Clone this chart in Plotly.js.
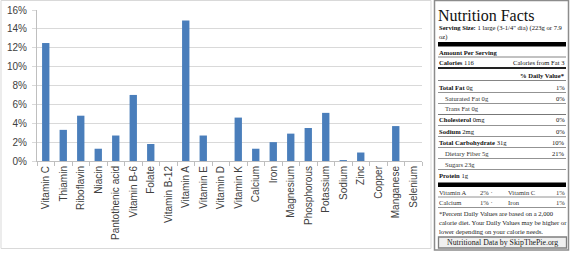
<!DOCTYPE html>
<html>
<head>
<meta charset="utf-8">
<script src="https://cdn.plot.ly/plotly-3.0.1.min.js"></script>
<style>
html,body{margin:0;padding:0;background:#fff;}
#chart{width:570px;height:253px;}
</style>
</head>
<body>
<div id="chart"></div>
<script>
// ---- Bar chart data ----
const categories = ['Vitamin C','Thiamin','Riboflavin','Niacin','Pantothenic acid','Vitamin B-6','Folate','Vitamin B-12','Vitamin A','Vitamin E','Vitamin D','Vitamin K','Calcium','Iron','Magnesium','Phosphorous','Potassium','Sodium','Zinc','Copper','Manganese','Selenium'];
const dailyValue = [0.125,0.033,0.048,0.013,0.027,0.070,0.018,0,0.149,0.027,0,0.046,0.013,0.020,0.029,0.035,0.051,0.001,0.009,0,0.037,0];
const yTickVals = [0,0.02,0.04,0.06,0.08,0.10,0.12,0.14,0.16];
const yTickText = ['0%','2%','4%','6%','8%','10%','12%','14%','16%'];

// ---- Nutrition facts panel content ----
const nfTitle = 'Nutrition Facts';
const servingSize = ['1 large (3-1/4" dia) (223g or 7.9', 'oz)'];
const calories = '116';
const caloriesFromFat = '3';
const nutrients = ['Total Fat','Saturated Fat','Trans Fat','Cholesterol','Sodium','Total Carbohydrate','Dietary Fiber','Sugars','Protein'];
const amounts = ['0g','0g','0g','0mg','2mg','31g','5g','23g','1g'];
const nutrientDV = ['1%','0%','','0%','0%','10%','21%','',''];
const subNutrients = ['Saturated Fat','Trans Fat','Dietary Fiber','Sugars'];
const vitaminNames = ['Vitamin A','Vitamin C','Calcium','Iron'];
const vitaminDV = ['2%','1%','1%','1%'];
const footnote = ['*Percent Daily Values are based on a 2,000','calorie diet. Your Daily Values may be higher or','lower depending on your calorie needs.'];
const credit = 'Nutritional Data by SkipThePie.org';

// ---- helpers (pixel -> paper, margins are 0) ----
const W = 570, H = 253;
const px = x => x / W;
const py = y => 1 - y / H;
const serif = 'Liberation Serif, Times New Roman, serif';
const FS = 6.6;

const shapes = [];
const annotations = [];
function hline(y, x0, x1, w, c) {
  shapes.push({type:'line', xref:'paper', yref:'paper', x0:px(x0), x1:px(x1), y0:py(y), y1:py(y), line:{color:c, width:w}});
}
function rect(x0, y0, x1, y1, fill, lc, lw) {
  shapes.push({type:'rect', xref:'paper', yref:'paper', x0:px(x0), x1:px(x1), y0:py(y0), y1:py(y1), fillcolor:fill, line:{color:lc, width:lw}});
}
function txt(x, y, t, size, anchor, color) {
  annotations.push({xref:'paper', yref:'paper', x:px(x), y:py(y), text:t, showarrow:false,
    xanchor:anchor||'left', yanchor:'middle', font:{family:serif, size:size, color:color||'#111'}, borderpad:0});
}

// chart frame
rect(1, 0.5, 431, 248.5, 'rgba(0,0,0,0)', '#d9d9d9', 1);

// nutrition box
const L = 438, R = 566;
rect(434.5, 0.5, 568.5, 250, '#ffffff', '#8c8c8c', 1.5);
txt(L, 28, '<b>Serving Size:</b> ' + servingSize[0], FS);
txt(L, 36.5, servingSize[1], FS);
rect(L, 42, R, 46.5, '#000', '#000', 0);
txt(L, 52, '<b>Amount Per Serving</b>', FS);
hline(57, L, R, 0.8, '#666');
txt(L, 62.5, '<b>Calories</b> ' + calories, FS);
txt(R, 62.5, 'Calories from Fat ' + caloriesFromFat, FS, 'right');
hline(68, L, R, 2, '#222');
txt(R, 75, '<b>% Daily Value*</b>', FS, 'right');
hline(80.5, L, R, 0.8, '#666');
nutrients.forEach((n, i) => {
  const y = 87 + i * 11;
  const sub = subNutrients.indexOf(n) >= 0;
  txt(sub ? L + 6 : L, y, (sub ? n : '<b>' + n + '</b>') + ' ' + amounts[i], FS, 'left', sub ? '#333' : '#111');
  if (nutrientDV[i]) txt(R, y, nutrientDV[i], FS, 'right');
  if (i < nutrients.length - 1) hline(y + 5.5, L, R, i === 2 ? 1.2 : 0.8, '#777');
});
rect(L, 182.5, R, 187, '#000', '#000', 0);
for (let r = 0; r < 2; r++) {
  const y = 192 + r * 10.5;
  txt(L, y, vitaminNames[2*r], FS, 'left', '#333');
  txt(494, y, vitaminDV[2*r] + ' ·', FS, 'right', '#333');
  txt(507, y, vitaminNames[2*r+1], FS, 'left', '#333');
  txt(R, y, vitaminDV[2*r+1], FS, 'right', '#333');
  hline(y + 5, L, R, 0.8, '#777');
}
footnote.forEach((f, i) => txt(L, 213 + i * 9, f, FS, 'left', '#222'));
rect(438.5, 237, 566.5, 248, '#efefef', '#7f7f7f', 1.3);
txt(502.5, 242.5, credit, 7.8, 'center', '#222');

const trace = {
  type:'bar', x:categories, y:dailyValue,
  marker:{color:'#4a7ebb', line:{width:0}},
  hoverinfo:'x+y'
};

const layout = {
  width:W, height:H,
  margin:{l:0, r:0, t:0, b:0, pad:0},
  paper_bgcolor:'#fff', plot_bgcolor:'#fff',
  showlegend:false,
  bargap:0.58,
  title:{text:nfTitle, xref:'paper', yref:'paper', x:px(L), y:py(15), xanchor:'left', yanchor:'middle',
    font:{family:serif, size:16, color:'#111'}, pad:{t:0,b:0,l:0,r:0}},
  xaxis:{
    domain:[37/W, 422/W], type:'category',
    tickson:'boundaries', ticks:'outside', ticklen:4, tickcolor:'#bfbfbf', tickwidth:1,
    showline:true, linecolor:'#bfbfbf', linewidth:1, showgrid:false,
    tickangle:-90, tickfont:{family:'Liberation Sans, Arial, sans-serif', size:10, color:'#404040'},
    fixedrange:true
  },
  yaxis:{
    domain:[1 - 161/H, 1 - 10/H], range:[0, 0.16],
    tickvals:yTickVals, ticktext:yTickText,
    ticks:'outside', ticklen:4, tickcolor:'#d9d9d9',
    showline:true, linecolor:'#bfbfbf', linewidth:1,
    showgrid:true, gridcolor:'#d9d9d9', gridwidth:1, zeroline:false,
    tickfont:{family:'Liberation Sans, Arial, sans-serif', size:10, color:'#404040'},
    ticklabelstandoff:3,
    fixedrange:true
  },
  shapes:shapes,
  annotations:annotations
};

Plotly.newPlot('chart', [trace], layout, {displayModeBar:false, staticPlot:true});
</script>
</body>
</html>
